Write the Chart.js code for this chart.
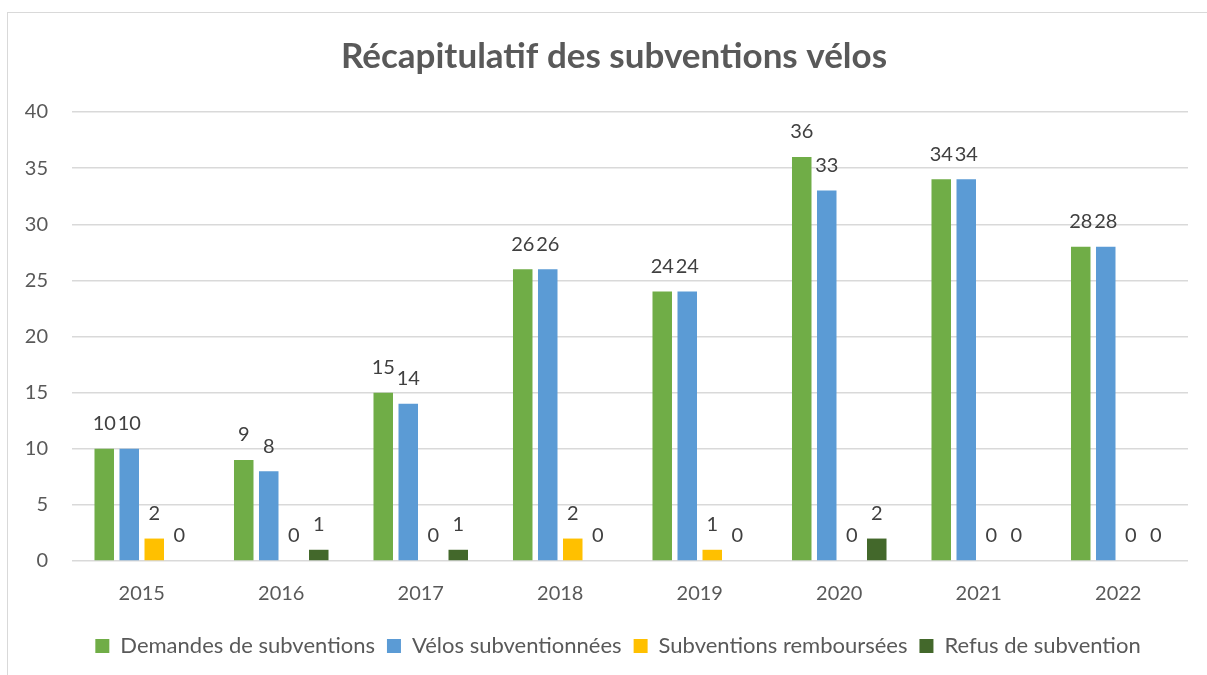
<!DOCTYPE html>
<html>
<head>
<meta charset="utf-8">
<script src="https://cdn.jsdelivr.net/npm/chart.js@4.4.1/dist/chart.umd.min.js"></script>
<style>
html,body{margin:0;padding:0;background:#fff;overflow:hidden;}
#wrap{position:relative;width:1207px;height:675px;}
#frame{position:absolute;left:7px;top:12px;width:1300px;height:800px;border:1px solid #d9d9d9;pointer-events:none;}
canvas{position:absolute;left:0;top:0;}
</style>
</head>
<body>
<div id="wrap">
<canvas id="c" width="1207" height="675"></canvas>
<div id="frame"></div>
</div>
<script>
const categories = ['2015','2016','2017','2018','2019','2020','2021','2022'];
const demandes = [10, 9, 15, 26, 24, 36, 34, 28];
const velos = [10, 8, 14, 26, 24, 33, 34, 28];
const remboursees = [2, 0, 0, 2, 1, 0, 0, 0];
const refus = [0, 1, 1, 0, 0, 2, 0, 0];
const seriesNames = ['Demandes de subventions','Vélos subventionnées','Subventions remboursées','Refus de subvention'];
const seriesColors = ['#70AD47','#5B9BD5','#FFC000','#43682B'];
const yTicks = [0,5,10,15,20,25,30,35,40];

const FONT = 'Lato, "Open Sans", sans-serif';

const labelPlugin = {
  id: 'barLabels',
  afterLayout(chart) {
    // shift title and legend to match the framed chart
    if (chart.titleBlock) { chart.titleBlock.left = 40; }
    if (chart.legend) { chart.legend.left = 48; chart.legend.top -= 4; }
  },
  afterDatasetsDraw(chart) {
    const ctx = chart.ctx;
    ctx.save();
    ctx.font = '20px ' + FONT;
    ctx.fillStyle = '#404040';
    ctx.textAlign = 'center';
    ctx.textBaseline = 'middle';
    chart.data.datasets.forEach((ds, i) => {
      const meta = chart.getDatasetMeta(i);
      meta.data.forEach((bar, j) => {
        ctx.fillText(String(ds.data[j]), bar.x, bar.y - 25);
      });
    });
    ctx.restore();
  }
};

const values = [demandes, velos, remboursees, refus];
new Chart(document.getElementById('c'), {
  type: 'bar',
  data: {
    labels: categories,
    datasets: values.map((v, i) => ({
      label: seriesNames[i],
      data: v,
      backgroundColor: seriesColors[i],
      borderWidth: 0,
      categoryPercentage: 0.717,
      barPercentage: 0.78
    }))
  },
  options: {
    responsive: false,
    animation: false,
    devicePixelRatio: 1,
    layout: { padding: { left: 0, right: 19, top: 12, bottom: 4 } },
    plugins: {
      title: {
        display: true,
        text: 'Récapitulatif des subventions vélos',
        color: '#595959',
        font: { family: FONT, size: 35, weight: 'bold' },
        padding: { top: 24, bottom: 34 }
      },
      legend: {
        position: 'bottom',
        labels: {
          color: '#595959',
          font: { family: FONT, size: 22 },
          boxWidth: 14,
          boxHeight: 14,
          padding: 12
        }
      },
      tooltip: { enabled: false }
    },
    scales: {
      x: {
        grid: { display: false, drawTicks: false },
        border: { display: false },
        ticks: { color: '#595959', font: { family: FONT, size: 20 }, padding: 21 }
      },
      y: {
        min: 0, max: 40,
        afterFit(scale) { scale.width = 72; },
        afterBuildTicks(scale) { scale.ticks = yTicks.map(v => ({ value: v })); },
        grid: { color: '#D9D9D9', lineWidth: 1.5, drawTicks: false },
        border: { display: false },
        ticks: { color: '#595959', font: { family: FONT, size: 20 }, padding: 24, stepSize: 5 }
      }
    }
  },
  plugins: [labelPlugin]
});
</script>
</body>
</html>
